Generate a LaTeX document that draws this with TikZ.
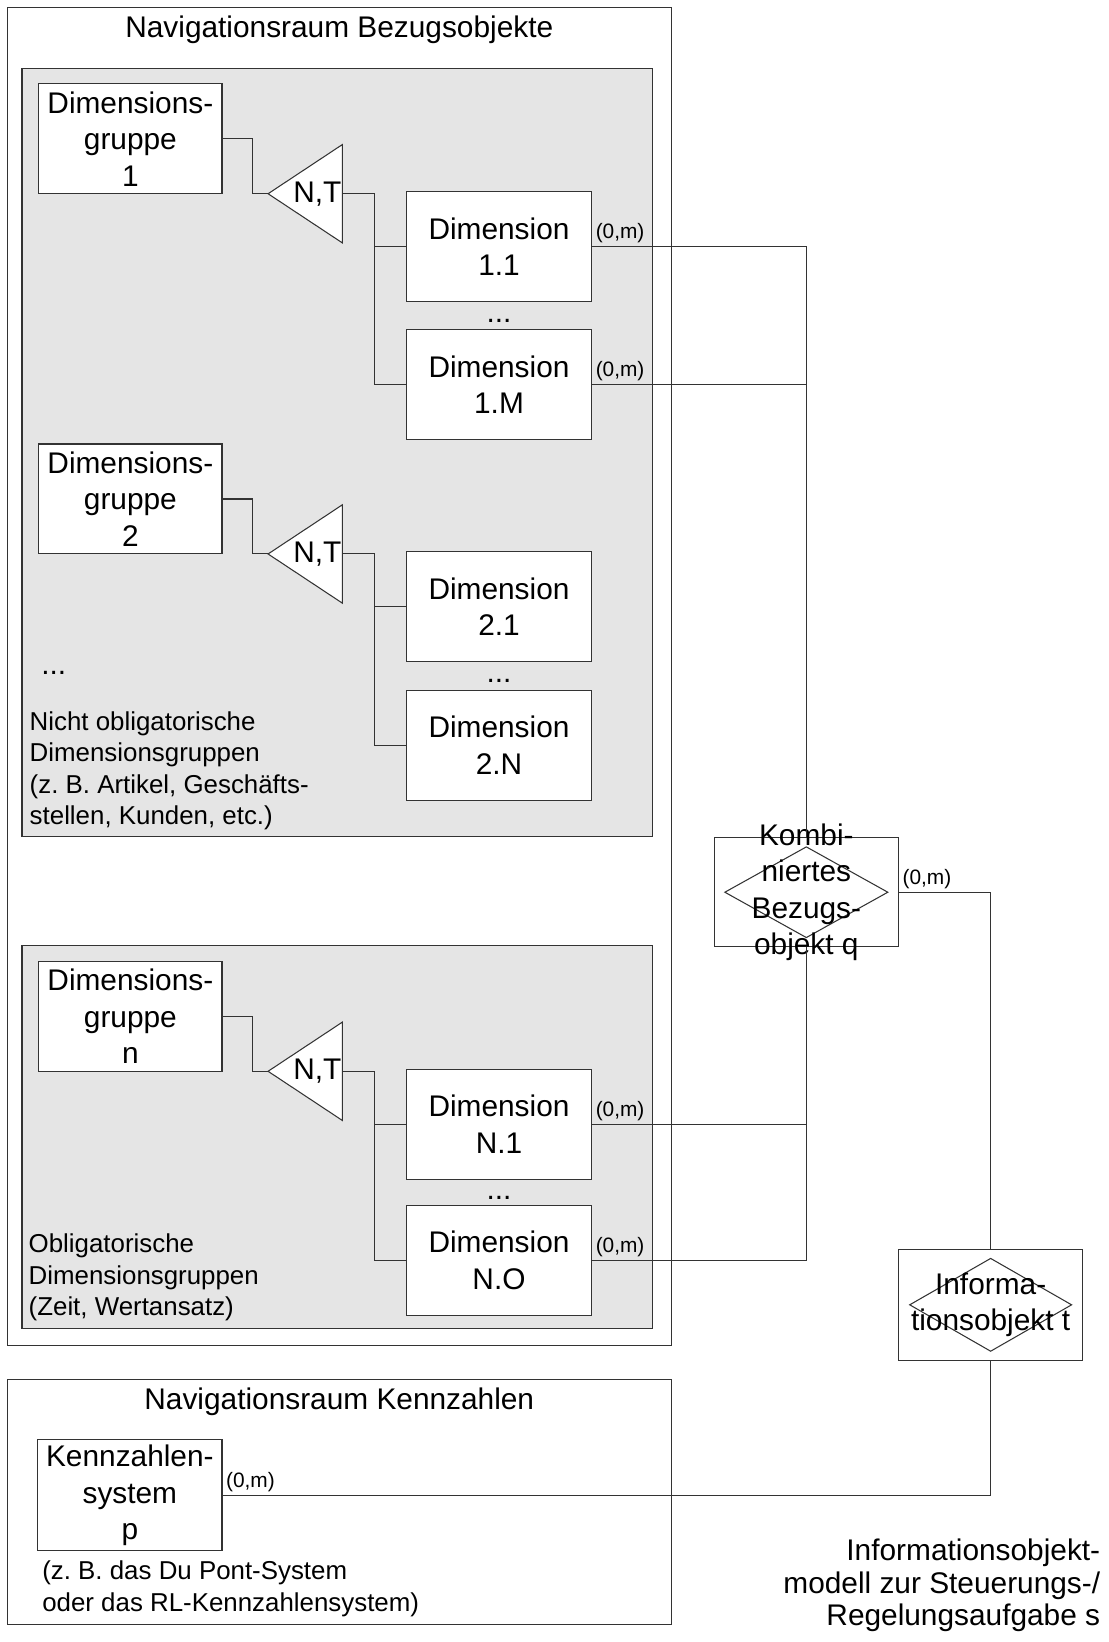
\documentclass[tikz,border=0pt]{standalone}
\usepackage{fontspec}
\setmainfont{Liberation Sans}
\usetikzlibrary{shapes.geometric}
\frenchspacing
\begin{document}
\begin{tikzpicture}[x=0.5bp,y=-0.5bp,
	every node/.style={font=\fontsize{14.3}{17.5}\selectfont,align=center},
	linie/.style={draw=black!80,line width=0.5bp},
	kasten/.style={linie,fill=white,inner sep=0pt,minimum width=88bp,minimum height=52.5bp},
	raute/.style={linie,diamond,inner sep=0pt},
	notiz/.style={font=\fontsize{12.4}{15.1}\selectfont,align=left,anchor=west,inner sep=0pt},
	kard/.style={font=\fontsize{10}{12}\selectfont,anchor=south west,inner sep=1.5bp}]
	\useasboundingbox (0,0) rectangle (1059,1568);
	
	\draw[linie] (7,7) rectangle (641,1285);
	\node (titel1) at (324,28) {Navigationsraum Bezugsobjekte};
	\draw[linie,fill=black!10] (21,65) rectangle (623,799);
	\draw[linie,fill=black!10] (21,903) rectangle (623,1269);
	
	\foreach \i/\yy/\gn/\da/\db/\abst in {1/80/1/1.1/1.M/132, 2/424/2/2.1/2.N/132, 3/918/n/N.1/N.O/130}{
		\node[kasten,minimum width=87.5bp] (g\i) at (124.5,\yy+52.5) {Dimensions-\\gruppe\\\gn};
		\draw[linie,fill=white] (256,\yy+105) coordinate (t\i a) -- (327,\yy+58) -- (327,\yy+152) -- cycle;
		\coordinate (t\i b) at (327,\yy+105);
		\node (nt\i) at (303,\yy+105) {N,T};
		\node[kasten,minimum width=88.5bp] (d\i a) at (476.5,\yy+155.5) {Dimension\\\da};
		\node[kasten,minimum width=88.5bp] (d\i b) at (476.5,\yy+155.5+\abst) {Dimension\\\db};
		\path (d\i a.south) -- (d\i b.north) node[midway,yshift=-2.5bp] (p\i) {...};
		\draw[linie] (g\i.east) -- +(29,0) |- (t\i a);
		\draw[linie] (t\i b) -- +(31,0) |- (d\i a.west);
		\draw[linie] (t\i b) -- +(31,0) |- (d\i b.west);
	};
	
	\node[notiz,font=\fontsize{14.3}{17.5}\selectfont] (n0) at (39,643) {...};
	\node[notiz] (n1) at (28,736) {Nicht obligatorische\\Dimensionsgruppen\\(z. B. Artikel, Geschäfts-\\stellen, Kunden, etc.)};
	\node[notiz] (n2) at (27,1220) {Obligatorische\\Dimensionsgruppen\\(Zeit, Wertansatz)};
	
	\node[kasten,minimum height=52bp] (kr) at (770,852) {};
	\node[raute,minimum width=78bp,minimum height=43.5bp] (kd) at (kr.center) {};
	\node (kt) at (kr.center) {Kombi-\\niertes\\Bezugs-\\objekt q};
	\foreach \d/\r in {1a/north,1b/north,3a/south,3b/south}{
		\draw[linie] (d\d.east) -| (kr.\r);
		\node[kard] (k\d) at (d\d.east) {(0,m)};
	};
	
	\node[kasten,minimum height=53bp] (ir) at (946,1246) {};
	\node[raute,minimum width=77.5bp,minimum height=44.5bp] (id) at (ir.center) {};
	\node (it) at (ir.center) {Informa-\\tionsobjekt t};
	\draw[linie] (kr.east) -| (ir.north);
	\node[kard] (kk) at (kr.east) {(0,m)};
	
	\draw[linie] (7,1317) rectangle (641,1551);
	\node (titel2) at (324,1339) {Navigationsraum Kennzahlen};
	\node[kasten,minimum height=53bp] (ks) at (124,1428) {Kennzahlen-\\system\\p};
	\draw[linie] (ir.south) |- (ks.east);
	\node[kard] (kp) at (ks.east) {(0,m)};
	\node[notiz] (n3) at (40,1517) {(z. B. das Du Pont-System\\oder das RL-Kennzahlensystem)};
	
	\node[font=\fontsize{14.3}{15.5}\selectfont,align=right,anchor=east,inner sep=0pt] (cap) at (1051,1514) {Informationsobjekt-\\modell zur Steuerungs-/\\Regelungsaufgabe s};
\end{tikzpicture}
\end{document}
